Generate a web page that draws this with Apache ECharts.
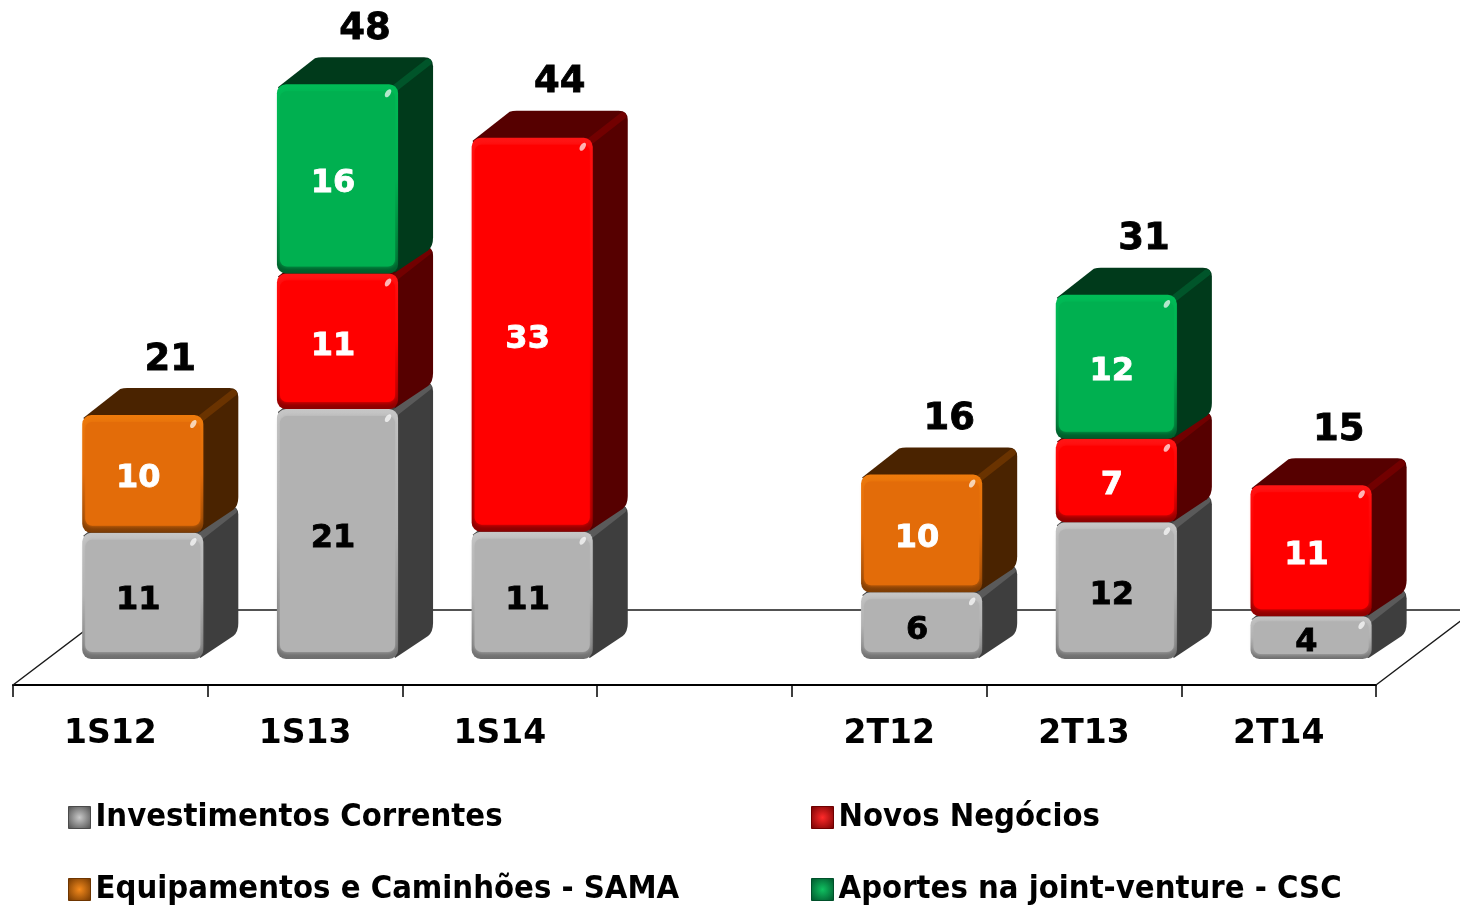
<!DOCTYPE html>
<html><head><meta charset="utf-8">
<style>html,body{margin:0;padding:0;background:#fff}#c{width:1460px;height:905px}</style>
<script src="https://cdn.jsdelivr.net/npm/echarts@6/dist/echarts.min.js"></script>
</head><body><div id="c"></div>
<script>
const categories = ['1S12','1S13','1S14','','2T12','2T13','2T14'];
const investimentos = [10.6,21.0,10.7,null,5.6,11.5,3.6];
const equipamentos  = [9.9,null,null,null,9.9,null,null];
const novos         = [null,11.4,33.1,null,null,7.0,11.0];
const aportes       = [null,15.9,null,null,null,12.1,null];
const totals        = [21,48,44,null,16,31,15];
const F = 'DejaVu Sans';
const L1='Investimentos Correntes', L2='Equipamentos e Caminhões - SAMA', L3='Novos Negócios', L4='Aportes na joint-venture - CSC';

const styles = {
 gray:{face:'#b2b2b2',top:'#c6c6c6',bot:'#6e6e6e',left:'#8e8e8e',right:'#bdbdbd',dark:'#3e3e3e',ridge:'#5a5a5a',label:'#000',lg:['#c8c8c8','#4a4a4a']},
 orange:{face:'#e36c09',top:'#ee7a0b',bot:'#7d3c04',left:'#b85707',right:'#f07608',dark:'#4a2300',ridge:'#6a3300',label:'#fff',lg:['#f58a1c','#6e3500']},
 red:{face:'#ff0000',top:'#ff1414',bot:'#8c0000',left:'#d00000',right:'#ff1010',dark:'#560000',ridge:'#720000',label:'#fff',lg:['#ff2a2a','#6e0000']},
 green:{face:'#00b050',top:'#00bc56',bot:'#005c2a',left:'#009040',right:'#00ba55',dark:'#003a1b',ridge:'#00552a',label:'#fff',lg:['#10c060','#00502a']}
};
const DX=35, DY=27, R=9;
const stackOrder=[[L1,investimentos,styles.gray],[L2,equipamentos,styles.orange],[L3,novos,styles.red],[L4,aportes,styles.green]];
const running=categories.map(()=>0);
const series=[];
series.push({type:'custom',silent:true,clip:false,z:1,data:[[0]],encode:{x:0},tooltip:{show:false},
 renderItem(p,api){
  const w=api.size([1,0])[0];
  const o=api.coord([0,0]);
  const x0=o[0]-w/2, x1=x0+w*categories.length, y=o[1]+26, by=o[1]-49;
  return {type:'polyline',silent:true,shape:{points:[[x1,y],[x1+99,by],[x0+99,by],[x0,y]]},style:{fill:null,stroke:'#1a1a1a',lineWidth:1.5}};
 }});
stackOrder.forEach(([name,vals,st])=>{
 const data=[];
 vals.forEach((v,i)=>{ if(v==null)return; data.push([i,running[i],running[i]+v,Math.round(v)]); running[i]+=v; });
 series.push({name,type:'custom',clip:false,z:2,itemStyle:{color:st.face},data,encode:{x:0,y:[1,2]},
  renderItem(p,api){
   const i=api.value(0), w=api.size([1,0])[0];
   const c0=api.coord([i,api.value(1)]), c1=api.coord([i,api.value(2)]);
   const L=c0[0]-w*0.1445, Rt=L+w*0.622, B=c0[1], T=c1[1];
   const h=B-T, fw=Rt-L;
   const r=Math.min(R,h/2);
   const back='M'+(L+1)+' '+(T+3)+' L'+(L+DX+3)+' '+(T-DY+1)+' Q'+(L+DX+6)+' '+(T-DY)+' '+(L+DX+10)+' '+(T-DY)+' L'+(Rt+DX-R)+' '+(T-DY)
    +' Q'+(Rt+DX)+' '+(T-DY)+' '+(Rt+DX)+' '+(T-DY+R)
    +' L'+(Rt+DX)+' '+(B-DY-R)+' Q'+(Rt+DX)+' '+(B-DY)+' '+(Rt+DX-5)+' '+(B-DY+4)
    +' L'+(Rt-3)+' '+(B-1)+' Z';
   const inset=h>60?7:5;
   const ch=[
    {type:'path',shape:{pathData:back,x:L+1,y:T-DY,width:Rt+DX-L-1,height:B-1-T+DY,layout:'cover'},style:{fill:st.dark}},
    {type:'line',shape:{x1:Rt-2,y1:T+3,x2:Rt+DX-5,y2:T-DY+5},style:{stroke:st.ridge,lineWidth:7,lineCap:'round'}},
    {type:'rect',shape:{x:L,y:T,width:fw,height:h,r:r},style:{fill:{type:'linear',x:0,y:0,x2:0,y2:1,colorStops:[{offset:0,color:st.top},{offset:0.5,color:st.face},{offset:1,color:st.bot}]}}},
    {type:'rect',shape:{x:L+3,y:T+inset,width:fw-6,height:h-inset*2,r:r-2},style:{fill:st.face,shadowColor:st.face,shadowBlur:4}},
    {type:'ellipse',rotation:-0.6,x:Rt-10,y:T+9,shape:{cx:0,cy:0,rx:2.5,ry:4.5},style:{fill:'#fff',opacity:0.7}},
    {type:'text',x:c0[0]+w*0.143,y:(B+T)/2+5,style:{text:String(api.value(3)),fill:st.label,stroke:st.label,lineWidth:0.8,font:'bold 32px "'+F+'"',align:'center',verticalAlign:'middle'}}
   ];
   return {type:'group',children:ch};
  }});
});
series.push({name:'totais',type:'custom',clip:false,z:3,silent:true,
 data:totals.map((t,i)=>t==null?null:[i,running[i],t]).filter(Boolean),encode:{x:0,y:1},
 renderItem(p,api){
  const c=api.coord([api.value(0),api.value(1)]);
  return {type:'text',x:c[0]+60,y:c[1]-55,style:{text:String(api.value(2)),fill:'#000',stroke:'#000',lineWidth:0.8,font:'bold 37px "'+F+'"',align:'center',verticalAlign:'middle'}};
 }});
function lg(name,left,top,st){
 return {show:true,left,top,orient:'horizontal',itemWidth:22,itemHeight:22,itemGap:5,selectedMode:false,
  icon:'rect',data:[{name,icon:'rect',itemStyle:{color:{type:'radial',x:0.5,y:0.5,r:0.7,colorStops:[{offset:0,color:st.lg[0]},{offset:1,color:st.lg[1]}]},borderColor:st.lg[1],borderWidth:1}}],
  textStyle:{fontFamily:'DejaVu Sans Condensed',fontWeight:'bold',fontSize:32.5,color:'#000'},padding:0};
}
const chart=echarts.init(document.getElementById('c'),null,{renderer:'canvas'});
chart.setOption({
 animation:false,backgroundColor:'#fff',
 grid:{left:13,width:1363,top:4.5,height:654.5,containLabel:false},
 legend:[lg(L1,68,801,styles.gray),lg(L3,811,801,styles.red),lg(L2,68,873,styles.orange),lg(L4,811,873,styles.green)],
 xAxis:{type:'category',data:categories,offset:26,boundaryGap:true,
  axisLine:{onZero:false,lineStyle:{color:'#000',width:2}},axisTick:{show:true,alignWithLabel:false,interval:0,length:12,lineStyle:{color:'#000',width:1.5}},
  axisLabel:{interval:0,margin:33,color:'#000',fontFamily:F,fontWeight:'bold',fontSize:33}},
 yAxis:{type:'value',min:0,max:55,show:false,splitLine:{show:false}},
 series
});
</script></body></html>
